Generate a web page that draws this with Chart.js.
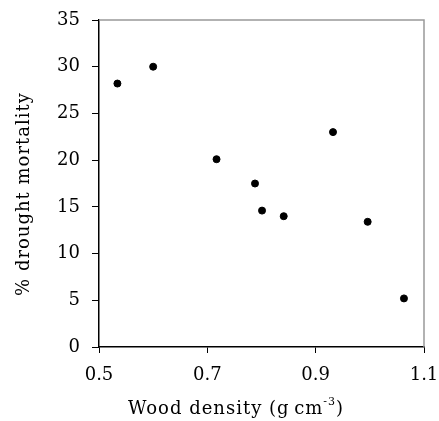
<!DOCTYPE html>
<html>
<head>
<meta charset="utf-8">
<script src="https://cdn.jsdelivr.net/npm/chart.js@4"></script>
<style>
  html, body { margin: 0; padding: 0; background: #fff; }
  #wrap { width: 439px; height: 421px; }
</style>
</head>
<body>
<div id="wrap"><canvas id="mortalityChart" width="439" height="421"></canvas></div>
<script>
// wood density (g cm-3) vs. % drought mortality
const woodDensity = [0.534, 0.600, 0.717, 0.788, 0.801, 0.841, 0.932, 0.996, 1.063];
const mortality = [28.2, 30.0, 20.1, 17.5, 14.6, 14.0, 23.0, 13.4, 5.2];
const xTicks = [0.5, 0.7, 0.9, 1.1];
const yTicks = [0, 5, 10, 15, 20, 25, 30, 35];

const serif = "'DejaVu Serif', 'Liberation Serif', serif";

// grey frame on the top and right of the plot, plus both axis titles
const framePlugin = {
    id: "frame",
    afterDraw: function (chart) {
        const ctx = chart.ctx;
        const a = chart.chartArea;
        ctx.save();
        ctx.strokeStyle = "#999999";
        ctx.lineWidth = 1.5;
        ctx.beginPath();
        ctx.moveTo(a.left, a.top);
        ctx.lineTo(a.right, a.top);
        ctx.lineTo(a.right, a.bottom);
        ctx.stroke();

        ctx.fillStyle = "#000";
        ctx.textBaseline = "alphabetic";
        ctx.letterSpacing = "1px";

        // x axis title, with a superscript exponent
        const main = "Wood density (g\u2009cm";
        const sup = "-3";
        const end = ")";
        ctx.font = "18px " + serif;
        const w1 = ctx.measureText(main).width;
        const w3 = ctx.measureText(end).width;
        ctx.font = "11px " + serif;
        const w2 = ctx.measureText(sup).width;
        let x = 236 - (w1 + w2 + w3) / 2;
        const y = 414;
        ctx.font = "18px " + serif;
        ctx.fillText(main, x, y);
        x += w1;
        ctx.font = "11px " + serif;
        ctx.fillText(sup, x, y - 9);
        x += w2;
        ctx.font = "18px " + serif;
        ctx.fillText(end, x, y);

        // y axis title
        ctx.font = "18px " + serif;
        ctx.textAlign = "center";
        ctx.translate(29, 194);
        ctx.rotate(-Math.PI / 2);
        ctx.fillText("% drought mortality", 0, 0);
        ctx.restore();
    }
};

const ctx = document.getElementById("mortalityChart").getContext("2d");

new Chart(ctx, {
    type: "scatter",
    data: {
        datasets: [{
            data: woodDensity.map(function (d, i) { return { x: d, y: mortality[i] }; }),
            backgroundColor: "#000",
            borderColor: "#000",
            pointRadius: 3.5,
            pointHoverRadius: 3.5
        }]
    },
    options: {
        responsive: false,
        animation: false,
        layout: { padding: { left: 0, right: 15, top: 20, bottom: 0 } },
        plugins: {
            legend: { display: false },
            tooltip: { enabled: false }
        },
        scales: {
            x: {
                type: "linear",
                min: 0.5,
                max: 1.1,
                afterBuildTicks: function (scale) {
                    scale.ticks = xTicks.map(function (v) { return { value: v }; });
                },
                afterFit: function (scale) {
                    scale.height = 74;
                    scale.paddingLeft = 0;
                    scale.paddingRight = 0;
                },
                grid: { drawOnChartArea: false, tickLength: 6, color: "#000", lineWidth: 1 },
                border: { color: "#000", width: 1.5 },
                ticks: {
                    color: "#000",
                    padding: 12,
                    font: { family: serif, size: 18 },
                    callback: function (v) { return v.toFixed(1); }
                }
            },
            y: {
                min: 0,
                max: 35,
                afterBuildTicks: function (scale) {
                    scale.ticks = yTicks.map(function (v) { return { value: v }; });
                },
                afterFit: function (scale) {
                    scale.width = 99;
                    scale.paddingTop = 0;
                    scale.paddingBottom = 0;
                },
                grid: { drawOnChartArea: false, tickLength: 7, color: "#000", lineWidth: 1 },
                border: { color: "#000", width: 1.5 },
                ticks: {
                    color: "#000",
                    padding: 12,
                    font: { family: serif, size: 18 }
                }
            }
        }
    },
    plugins: [framePlugin]
});
</script>
</body>
</html>
